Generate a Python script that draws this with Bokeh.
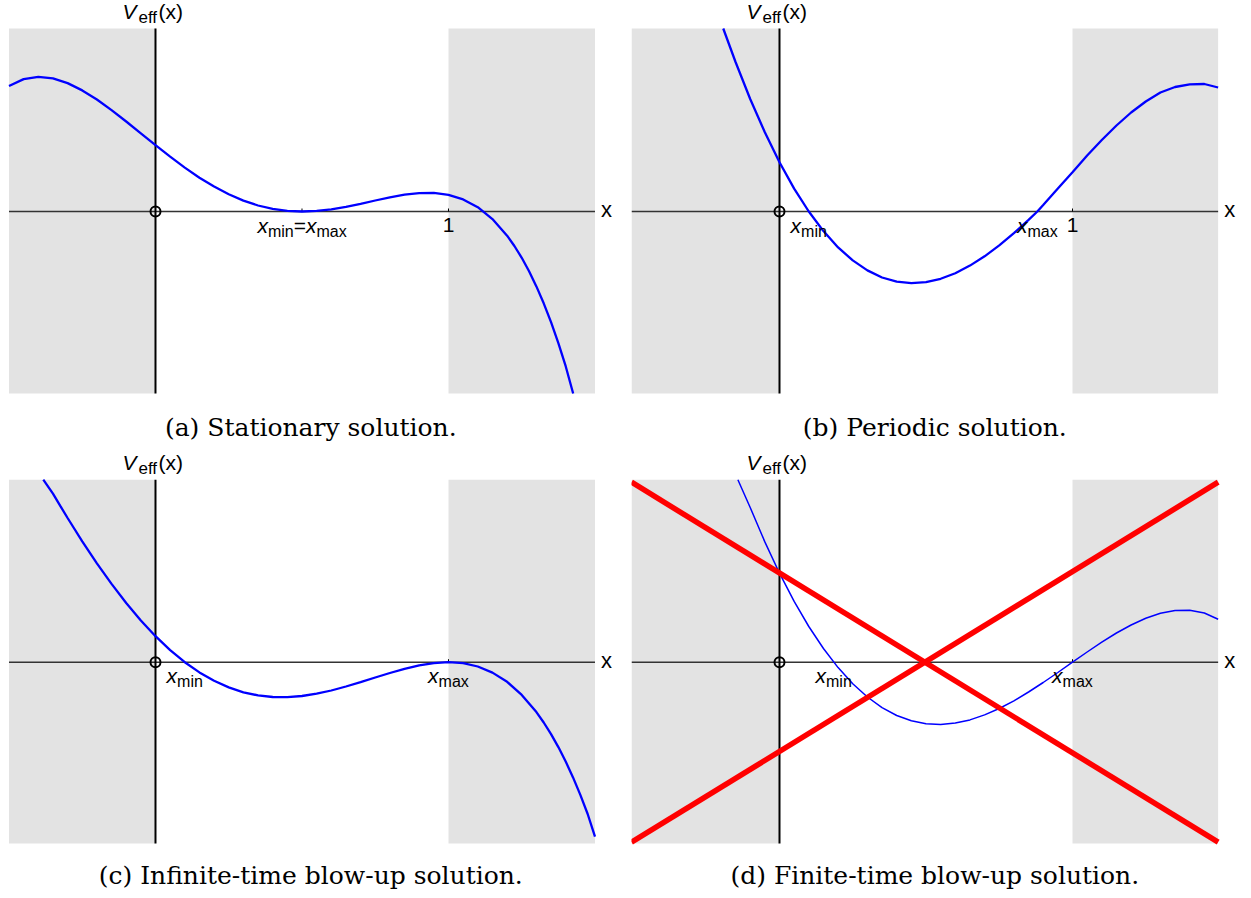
from bokeh.plotting import figure
from bokeh.layouts import column, row
from bokeh.models import Label, Range1d
from bokeh.embed import file_html
from bokeh.resources import INLINE

# ---------------- data ----------------
# forbidden regions (x < 0 and x > 1) as [left, right] pairs, per column of panels
shade_left_ac = [-0.5, 1.0]
shade_right_ac = [0.0, 1.5]
shade_left_bd = [-0.505, 1.0]
shade_right_bd = [0.0, 1.497]

a_x = [-0.5, -0.45, -0.4, -0.35, -0.3, -0.25, -0.2, -0.15, -0.1, -0.05, 0.0, 0.05, 0.1, 0.15, 0.2,
       0.25, 0.3, 0.35, 0.4, 0.45, 0.5, 0.55, 0.6, 0.65, 0.7, 0.75, 0.8, 0.85, 0.9, 0.95, 1.0,
       1.05, 1.1, 1.15, 1.2, 1.225, 1.25, 1.275, 1.3, 1.325, 1.35, 1.375, 1.4, 1.4255]
a_y = [1.255, 1.324, 1.347, 1.331, 1.284, 1.211, 1.120, 1.014, 0.900, 0.782, 0.663, 0.548, 0.439,
       0.338, 0.249, 0.172, 0.109, 0.060, 0.026, 0.006, 0.0, 0.006, 0.022, 0.047, 0.077, 0.110,
       0.142, 0.168, 0.184, 0.186, 0.167, 0.121, 0.043, -0.076, -0.242, -0.345, -0.463, -0.598,
       -0.749, -0.918, -1.107, -1.316, -1.547, -1.82]

b_x = [-0.192, -0.15, -0.1, -0.05, 0.0, 0.05, 0.1, 0.15, 0.2, 0.25, 0.3, 0.35, 0.4, 0.45, 0.5, 0.55,
       0.6, 0.65, 0.7, 0.75, 0.8, 0.85, 0.88, 0.9, 0.95, 1.0, 1.05, 1.1, 1.15, 1.2, 1.25, 1.3,
       1.35, 1.4, 1.45, 1.497]
b_y = [1.83, 1.495, 1.125, 0.792, 0.493, 0.229, 0.0, -0.196, -0.359, -0.489, -0.589, -0.660, -0.702,
       -0.717, -0.707, -0.673, -0.617, -0.541, -0.448, -0.339, -0.217, -0.084, 0.0, 0.065, 0.230,
       0.393, 0.560, 0.715, 0.860, 0.990, 1.100, 1.190, 1.245, 1.272, 1.275, 1.240]

c_x = [-0.383, -0.35, -0.325, -0.3, -0.25, -0.2, -0.15, -0.1, -0.05, 0.0, 0.05, 0.1, 0.15, 0.2,
       0.25, 0.3, 0.35, 0.4, 0.45, 0.5, 0.55, 0.6, 0.65, 0.7, 0.75, 0.8, 0.85, 0.9, 0.95, 1.0,
       1.05, 1.1, 1.15, 1.2, 1.25, 1.3, 1.325, 1.35, 1.375, 1.4, 1.425, 1.45, 1.475, 1.5]
c_y = [1.825, 1.686, 1.563, 1.442, 1.209, 0.989, 0.783, 0.592, 0.417, 0.260, 0.121, 0.0, -0.102,
       -0.186, -0.252, -0.301, -0.332, -0.348, -0.349, -0.338, -0.315, -0.283, -0.243, -0.199,
       -0.153, -0.108, -0.066, -0.032, -0.009, 0.0, -0.010, -0.043, -0.104, -0.196, -0.327,
       -0.499, -0.603, -0.719, -0.849, -0.993, -1.152, -1.327, -1.518, -1.745]

d_x = [-0.142, -0.1, -0.05, 0.0, 0.05, 0.1, 0.15, 0.2, 0.25, 0.3, 0.35, 0.4, 0.45, 0.5, 0.55,
       0.6, 0.65, 0.7, 0.75, 0.8, 0.85, 0.9, 0.95, 1.0, 1.05, 1.1, 1.15, 1.2, 1.25, 1.3, 1.35, 1.4,
       1.45, 1.497]
d_y = [1.825, 1.547, 1.203, 0.890, 0.608, 0.357, 0.137, -0.054, -0.216, -0.348, -0.454, -0.533,
       -0.586, -0.616, -0.623, -0.609, -0.577, -0.527, -0.463, -0.386, -0.298, -0.203, -0.103, 0.0,
       0.102, 0.200, 0.292, 0.372, 0.439, 0.489, 0.516, 0.519, 0.492, 0.430]

d_red_x = [-0.505, 1.497]
d_red_down = [1.80, -1.80]
d_red_up = [-1.80, 1.80]

ticks_a = [0.5, 1.0]
ticks_b = [1.0]
ticks_c = [1.0]
ticks_d = [1.0]

marks_a = [(0.5, "min=max"), (1.0, "1")]
marks_b = [(0.1, "min"), (0.88, "max"), (1.0, "1")]
marks_c = [(0.1, "min"), (1.0, "max")]
marks_d = [(0.185, "min"), (1.0, "max")]

captions = ["(a) Stationary solution.", "(b) Periodic solution.",
            "(c) Infinite-time blow-up solution.", "(d) Finite-time blow-up solution."]

SANS = "Liberation Sans"
SERIF = "DejaVu Serif"

# label pieces: (text, dx, dy, size, style); dy = intended baseline offset in px
MARK_PARTS = {
    "min": [("x", -18.2, -22, 21, "italic"), ("min", -7.7, -26, 16, "normal")],
    "max": [("x", -20.4, -22, 21, "italic"), ("max", -9.9, -26, 16, "normal")],
    "min=max": [("x", -44.6, -22, 21, "italic"), ("min", -34.1, -26, 16, "normal"),
                ("=", -8.3, -22, 21, "normal"), ("x", 4.0, -22, 21, "italic"),
                ("max", 14.5, -26, 16, "normal")],
}


def add_text(p, x, y, text, dx, dy, size, style="normal", align="left", font=SANS):
    # renderer places the alphabetic baseline lower than requested; compensate
    p.add_layout(Label(x=x, y=y, x_units="data", y_units="data", x_offset=dx,
                       y_offset=dy + 0.4 * size,
                       text=text, text_font=font, text_font_size=f"{size}px",
                       text_font_style=style, text_align=align, text_baseline="alphabetic",
                       text_color="black"))


def make_panel(cx, cy, view_x, view_y, box_x, box_y, shade, w, h, lw, ticks, marks,
               caption, cap_dy, red=None):
    p = figure(width=w, height=h, x_range=Range1d(*view_x), y_range=Range1d(*view_y),
               output_backend="svg", toolbar_location=None,
               x_axis_location=None, y_axis_location=None,
               min_border=0, min_border_left=0, min_border_right=0,
               min_border_top=0, min_border_bottom=0)
    p.outline_line_color = None
    p.background_fill_color = "white"
    p.border_fill_color = "white"
    p.grid.visible = False

    # forbidden regions
    p.quad(left=shade[0], right=shade[1], bottom=box_y[0], top=box_y[1],
           fill_color="#e3e3e3", line_color=None)
    # axes
    p.line(x=list(box_x), y=[0, 0], line_color="#333333", line_width=1.5)
    p.line(x=[0, 0], y=list(box_y), line_color="black", line_width=2)
    # small ticks
    p.segment(x0=ticks, y0=[0] * len(ticks), x1=ticks, y1=[0.03] * len(ticks),
              line_color="black", line_width=1)
    # potential
    p.line(x=cx, y=cy, line_color="#0000ff", line_width=lw)
    if red is not None:
        rx, r1, r2 = red
        p.line(x=rx, y=r1, line_color="#ff0000", line_width=5.5)
        p.line(x=rx, y=r2, line_color="#ff0000", line_width=5.5)
    # origin marker
    p.scatter(x=[0], y=[0], marker="circle", size=10, fill_color=None,
              line_color="black", line_width=2)

    # V_eff(x) label
    add_text(p, 0, box_y[1], "V", -33, 9, 21, "italic")
    add_text(p, 0, box_y[1], "eff", -17, 4, 17)
    add_text(p, 0, box_y[1], "(x)", 3, 9, 21)
    # x label
    add_text(p, box_x[1], 0, "x", 6, -7, 22)
    # marks
    for mx, kind in marks:
        if kind == "1":
            add_text(p, mx, 0, "1", 0, -22, 21, align="center")
        else:
            for t, dx, dy, s, st in MARK_PARTS[kind]:
                add_text(p, mx, 0, t, dx, dy, s, st)
    # caption
    add_text(p, 0.53, box_y[0], caption, 0, cap_dy, 25, align="center", font=SERIF)
    return p


VIEW_X_AC = (-0.529, 1.6246)
VIEW_X_BD = (-0.5051, 1.6109)
VIEW_Y_AB = (-2.38, 2.11)
VIEW_Y_CD = (-2.363, 2.127)
BOX_X_AC = (-0.5, 1.5)
BOX_X_BD = (-0.505, 1.497)
BOX_Y_AB = (-1.82, 1.83)
BOX_Y_CD = (-1.813, 1.825)

pa = make_panel(a_x, a_y, VIEW_X_AC, VIEW_Y_AB, BOX_X_AC, BOX_Y_AB,
                (shade_left_ac, shade_right_ac), 631, 449, 2.3, ticks_a, marks_a, captions[0], -44)
pb = make_panel(b_x, b_y, VIEW_X_BD, VIEW_Y_AB, BOX_X_BD, BOX_Y_AB,
                (shade_left_bd, shade_right_bd), 620, 449, 2.3, ticks_b, marks_b, captions[1], -44)
pc = make_panel(c_x, c_y, VIEW_X_AC, VIEW_Y_CD, BOX_X_AC, BOX_Y_CD,
                (shade_left_ac, shade_right_ac), 631, 449, 2.3, ticks_c, marks_c, captions[2], -42)
pd = make_panel(d_x, d_y, VIEW_X_BD, VIEW_Y_CD, BOX_X_BD, BOX_Y_CD,
                (shade_left_bd, shade_right_bd), 620, 449, 1.5, ticks_d, marks_d, captions[3], -42,
                red=(d_red_x, d_red_down, d_red_up))

layout = column(row(pa, pb), row(pc, pd))
open("out.html", "w").write(file_html(layout, INLINE, "Effective potential"))
